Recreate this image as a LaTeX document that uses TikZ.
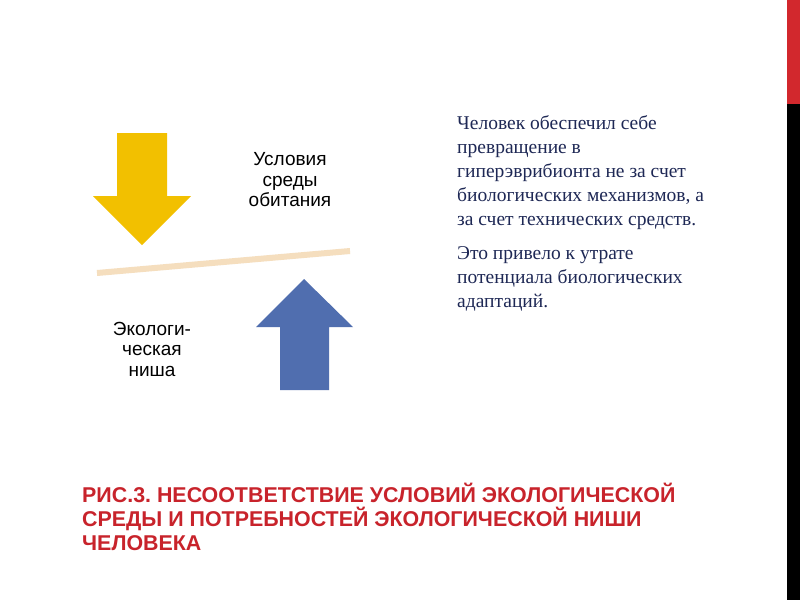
\documentclass[tikz,border=0pt]{standalone}
\usepackage{fontspec}
\setmainfont{Liberation Serif}
\setsansfont{Liberation Sans}
\frenchspacing
\definecolor{barred}{RGB}{210,40,45}
\definecolor{titlered}{RGB}{200,35,43}
\definecolor{arrowyellow}{RGB}{242,192,0}
\definecolor{arrowblue}{RGB}{80,110,175}
\definecolor{linetan}{RGB}{245,222,190}
\definecolor{navy}{RGB}{30,40,85}
\tikzset{
  lbl/.style={font=\sffamily\fontsize{19}{20.5}\selectfont, align=center, inner sep=0pt},
  para/.style={font=\rmfamily\fontsize{19.5}{24}\selectfont, text=navy, align=left, anchor=north west, inner sep=0pt},
  ttl/.style={font=\sffamily\bfseries\fontsize{21.4}{24}\selectfont, text=titlered, align=left, anchor=north west, inner sep=0pt}
}
\begin{document}
\begin{tikzpicture}[x=1pt,y=-1pt]
\useasboundingbox (0,0) rectangle (800,600);
\fill[white] (0,0) rectangle (800,600);
% right bars
\fill[barred] (787,0) rectangle (800,104);
\fill[black] (787,104) rectangle (800,600);
% yellow down arrow
\fill[arrowyellow] (117,133) -- (167,133) -- (167,196) -- (191,196) -- (142,245) -- (93,196) -- (117,196) -- cycle;
% blue up arrow
\fill[arrowblue] (280,390) -- (329,390) -- (329,327) -- (353,327) -- (304,279) -- (256,327) -- (280,327) -- cycle;
% tilted line
\coordinate (la) at (97,273);
\coordinate (lb) at (350,251);
\draw[linetan, line width=6pt] (la) -- (lb);
% labels
\node[lbl] (env) at (290,180) {Условия\\среды\\обитания};
\node[lbl] (niche) at (152,349) {Экологи-\\ческая\\ниша};
% paragraph
\node[para] (p1) at (457,115) {Человек обеспечил себе\\превращение в\\гиперэврибионта не за счет\\биологических механизмов, а\\за счет технических средств.};
\node[para] (p2) at (457,246) {Это привело к утрате\\потенциала биологических\\адаптаций.};
% title
\node[ttl] (title) at (82,483) {РИС.3. НЕСООТВЕТСТВИЕ УСЛОВИЙ ЭКОЛОГИЧЕСКОЙ\\СРЕДЫ И ПОТРЕБНОСТЕЙ ЭКОЛОГИЧЕСКОЙ НИШИ\\ЧЕЛОВЕКА};
\end{tikzpicture}
\end{document}
